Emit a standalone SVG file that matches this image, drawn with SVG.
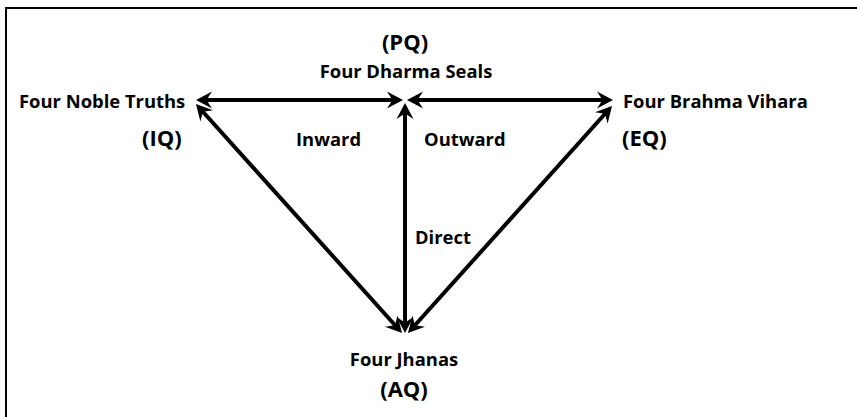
<svg xmlns="http://www.w3.org/2000/svg" width="857" height="417" viewBox="0 0 857 417">
<style>
text{font-family:"Open Sans","Noto Sans","DejaVu Sans",sans-serif;font-weight:700;fill:#000}
.n{font-size:18.4px}
.q{font-size:22px}
.l{font-size:18.4px}
.c{stroke:#000;stroke-width:4;fill:none}
</style>
<defs>
<marker id="ah" markerUnits="userSpaceOnUse" viewBox="-17 -10 19 20" refX="-6" refY="0" markerWidth="19" markerHeight="20" orient="auto-start-reverse">
<path d="M0,0 L-16,-8.5 L-10.5,0 L-16,8.5 Z" fill="#000"/>
</marker>
</defs>
<rect x="0" y="0" width="857" height="417" fill="#fff"/>
<rect x="6" y="8" width="870" height="430" fill="none" stroke="#000" stroke-width="2"/>
<g id="connectors">
<line class="c" x1="202" y1="100" x2="397" y2="100" marker-start="url(#ah)" marker-end="url(#ah)"/>
<line class="c" x1="413" y1="100" x2="607" y2="100" marker-start="url(#ah)" marker-end="url(#ah)"/>
<line class="c" x1="405" y1="327" x2="405" y2="109" marker-start="url(#ah)" marker-end="url(#ah)"/>
<line class="c" x1="398" y1="328.5" x2="200" y2="108.5" marker-start="url(#ah)" marker-end="url(#ah)"/>
<line class="c" x1="412" y1="328.5" x2="608" y2="110.5" marker-start="url(#ah)" marker-end="url(#ah)"/>
</g>
<g id="pq">
<text class="q" x="405" y="50" text-anchor="middle">(PQ)</text>
<text class="n" x="406" y="78" text-anchor="middle">Four Dharma Seals</text>
</g>
<g id="iq">
<text class="n" x="19" y="108">Four Noble Truths</text>
<text class="q" x="142" y="146">(IQ)</text>
</g>
<g id="eq">
<text class="n" x="623" y="108">Four Brahma Vihara</text>
<text class="q" x="622" y="146">(EQ)</text>
</g>
<g id="aq">
<text class="n" x="404" y="366" text-anchor="middle">Four Jhanas</text>
<text class="q" x="404" y="397" text-anchor="middle">(AQ)</text>
</g>
<g id="labels">
<text class="l" x="296" y="146">Inward</text>
<text class="l" x="424" y="146">Outward</text>
<text class="l" x="415" y="244">Direct</text>
</g>
</svg>
